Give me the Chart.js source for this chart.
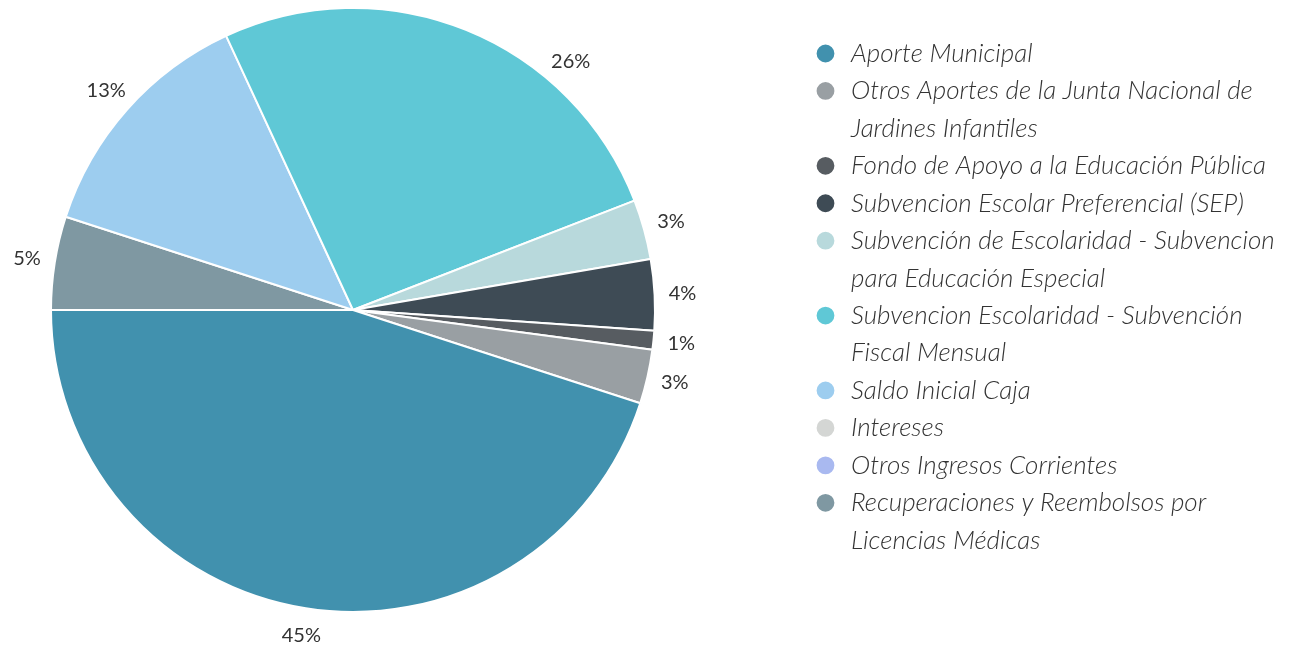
<!DOCTYPE html>
<html lang="es">
<head>
<meta charset="utf-8">
<title>Ingresos</title>
<script src="https://cdn.jsdelivr.net/npm/chart.js@4.4.1/dist/chart.umd.min.js"></script>
<style>
  html, body { margin: 0; padding: 0; background: #fff; }
  #wrap { width: 1294px; height: 660px; position: relative; }
</style>
</head>
<body>
<div id="wrap"><canvas id="ingresosChart"></canvas></div>
<script>
// legend order (top to bottom); long names are split where the legend wraps them
const categories = [
  ["Aporte Municipal"],
  ["Otros Aportes de la Junta Nacional de", "Jardines Infantiles"],
  ["Fondo de Apoyo a la Educación Pública"],
  ["Subvencion Escolar Preferencial (SEP)"],
  ["Subvención de Escolaridad - Subvencion", "para Educación Especial"],
  ["Subvencion Escolaridad - Subvención", "Fiscal Mensual"],
  ["Saldo Inicial Caja"],
  ["Intereses"],
  ["Otros Ingresos Corrientes"],
  ["Recuperaciones y Reembolsos por", "Licencias Médicas"],
];
const values = [45.0, 2.9, 1.0, 3.8, 3.2, 26.0, 13.1, 0, 0, 5.0];
const colors = [
  "#4191ae", "#999fa3", "#575c61", "#3e4b55", "#b8d9dc",
  "#5fc8d6", "#9dcdef", "#d4d6d4", "#a9b9f0", "#7f98a2",
];

const FONT = "Lato";
const legendFont = { family: FONT, size: 26, style: "italic", weight: "300", lineHeight: 1.44 };
const BOX_W = 25;
const TEXT_X = 851;      // where legend text starts
const PIE_RIGHT = 706;   // right edge of the pie area (pie centred at 353)
const LABEL_MIN_Y = 62;  // labels never go higher than this

// legend width the way Chart.js measures it, so the text lands at TEXT_X
const probe = document.createElement("canvas").getContext("2d");
probe.font = `italic 300 ${legendFont.size}px ${FONT}`;
const textW = Math.max(...categories.map((c) =>
  probe.measureText(c.reduce((a, b) => (a.length > b.length ? a : b))).width));
const legendW = BOX_W + legendFont.size / 2 + textW + 10;
const itemX = TEXT_X - BOX_W - legendFont.size / 2;
const padRight = Math.max(0, 1294 - itemX - legendW);

// empty box between pie and legend
const legendGap = {
  id: "legendGap",
  beforeInit(chart) {
    Chart.layouts.addBox(chart, {
      position: "right",
      weight: 100,
      fullSize: false,
      options: {},
      isHorizontal: () => false,
      update(maxWidth, maxHeight) {
        this.width = itemX - PIE_RIGHT;
        this.height = maxHeight;
      },
      draw() {},
    });
  },
};

// percentage outside each slice
const pctLabels = {
  id: "pctLabels",
  afterDatasetsDraw(chart) {
    const meta = chart.getDatasetMeta(0);
    const data = chart.data.datasets[0].data;
    const total = data.reduce((a, b) => a + b, 0);
    const ctx = chart.ctx;
    ctx.save();
    ctx.font = `400 20px ${FONT}`;
    ctx.fillStyle = "#333";
    ctx.textAlign = "center";
    ctx.textBaseline = "middle";
    meta.data.forEach((arc, i) => {
      if (!data[i]) return;
      const p = arc.getProps(["x", "y", "startAngle", "endAngle", "outerRadius"], true);
      const mid = (p.startAngle + p.endAngle) / 2;
      const r = p.outerRadius + 28;
      let lx = p.x + r * Math.cos(mid);
      let ly = p.y + r * Math.sin(mid);
      if (ly < LABEL_MIN_Y) {
        ly = LABEL_MIN_Y;
        const dy = ly - p.y;
        lx = p.x + Math.sign(Math.cos(mid)) * Math.sqrt(r * r - dy * dy);
      }
      ctx.fillText(Math.round((data[i] / total) * 100) + "%", lx, ly);
    });
    ctx.restore();
  },
};

// slices run counter-clockwise from 9 o'clock, so feed them reversed
// and flip the legend back
new Chart(document.getElementById("ingresosChart"), {
  type: "pie",
  data: {
    labels: categories.slice().reverse(),
    datasets: [{
      data: values.slice().reverse(),
      backgroundColor: colors.slice().reverse(),
      borderColor: "#fff",
      borderWidth: 2,
    }],
  },
  options: {
    responsive: true,
    maintainAspectRatio: false,
    animation: false,
    rotation: 270,
    layout: { padding: { top: 7, bottom: 47, left: 0, right: padRight } },
    plugins: {
      legend: {
        position: "right",
        align: "start",
        reverse: true,
        maxWidth: 700,
        title: { display: true, text: "", padding: { top: 32.5, bottom: 0 }, font: { size: 1, lineHeight: 1 } },
        labels: {
          usePointStyle: true,
          pointStyle: "circle",
          boxWidth: BOX_W,
          boxHeight: 14,
          padding: 0,
          color: "#333",
          font: legendFont,
        },
      },
      tooltip: { enabled: false },
    },
  },
  plugins: [legendGap, pctLabels],
});
</script>
</body>
</html>
